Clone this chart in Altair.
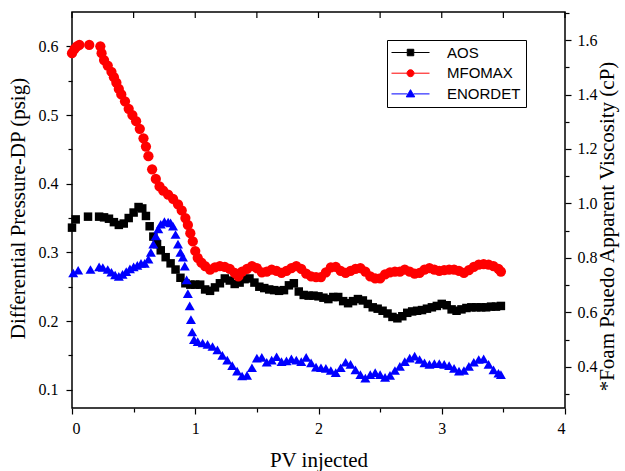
import altair as alt
import pandas as pd

series_names = ["AOS", "MFOMAX", "ENORDET"]
series_colors = ["#000000", "#ff0000", "#0000ff"]

aos_x = [0.00, 0.03, 0.13, 0.22, 0.26, 0.30, 0.34, 0.38, 0.42, 0.46, 0.50, 0.54, 0.57, 0.60, 0.63,
         0.66, 0.69, 0.72, 0.76, 0.80, 0.84, 0.88, 0.92, 0.96, 1.00, 1.04, 1.08, 1.12, 1.16, 1.20,
         1.24, 1.28, 1.32, 1.36, 1.40, 1.44, 1.48, 1.52, 1.56, 1.60, 1.64, 1.68, 1.72, 1.76, 1.80,
         1.84, 1.88, 1.92, 1.96, 2.00, 2.04, 2.08, 2.12, 2.16, 2.20, 2.24, 2.28, 2.32, 2.36, 2.40,
         2.44, 2.48, 2.52, 2.56, 2.60, 2.64, 2.68, 2.72, 2.76, 2.80, 2.84, 2.88, 2.92, 2.96, 3.00,
         3.04, 3.08, 3.12, 3.16, 3.20, 3.24, 3.28, 3.32, 3.36, 3.40, 3.44, 3.48]
aos_y = [0.336, 0.348, 0.352, 0.352, 0.351, 0.349, 0.344, 0.340, 0.342, 0.350, 0.358, 0.366, 0.364, 0.353, 0.338,
         0.323, 0.312, 0.303, 0.293, 0.284, 0.275, 0.263, 0.255, 0.253, 0.253, 0.253, 0.246, 0.244, 0.249, 0.255,
         0.262, 0.259, 0.254, 0.256, 0.261, 0.262, 0.256, 0.250, 0.248, 0.246, 0.245, 0.244, 0.245, 0.252, 0.255,
         0.243, 0.238, 0.237, 0.237, 0.236, 0.234, 0.232, 0.235, 0.235, 0.229, 0.226, 0.229, 0.232, 0.230, 0.225,
         0.220, 0.218, 0.215, 0.211, 0.206, 0.204, 0.207, 0.212, 0.214, 0.215, 0.216, 0.218, 0.220, 0.222, 0.225,
         0.223, 0.217, 0.215, 0.217, 0.219, 0.220, 0.220, 0.220, 0.220, 0.221, 0.221, 0.222]

mfo_x = [0.00, 0.02, 0.04, 0.06, 0.14, 0.23, 0.24, 0.26, 0.29, 0.32, 0.34, 0.36, 0.38, 0.40, 0.43,
         0.46, 0.49, 0.52, 0.55, 0.58, 0.60, 0.62, 0.65, 0.68, 0.71, 0.74, 0.78, 0.82, 0.86, 0.89,
         0.92, 0.94, 0.96, 0.98, 1.00, 1.02, 1.05, 1.08, 1.12, 1.16, 1.20, 1.24, 1.28, 1.32, 1.35,
         1.38, 1.42, 1.46, 1.50, 1.54, 1.58, 1.62, 1.66, 1.70, 1.74, 1.78, 1.82, 1.86, 1.90, 1.94,
         1.98, 2.02, 2.06, 2.10, 2.14, 2.18, 2.22, 2.26, 2.30, 2.34, 2.38, 2.42, 2.46, 2.50, 2.54,
         2.58, 2.62, 2.66, 2.70, 2.74, 2.78, 2.82, 2.86, 2.90, 2.94, 2.98, 3.02, 3.06, 3.10, 3.14,
         3.18, 3.22, 3.26, 3.30, 3.34, 3.38, 3.42, 3.46, 3.48]
mfo_y = [0.590, 0.596, 0.600, 0.602, 0.602, 0.600, 0.590, 0.580, 0.572, 0.563, 0.555, 0.547, 0.538, 0.530, 0.520,
         0.509, 0.500, 0.491, 0.480, 0.466, 0.454, 0.440, 0.421, 0.407, 0.396, 0.390, 0.384, 0.378, 0.370, 0.361,
         0.350, 0.340, 0.328, 0.316, 0.302, 0.292, 0.285, 0.280, 0.275, 0.278, 0.280, 0.279, 0.276, 0.270, 0.265,
         0.272, 0.276, 0.280, 0.277, 0.271, 0.272, 0.275, 0.273, 0.270, 0.273, 0.277, 0.280, 0.276, 0.269, 0.265,
         0.264, 0.264, 0.271, 0.278, 0.279, 0.273, 0.270, 0.273, 0.276, 0.277, 0.272, 0.265, 0.262, 0.262, 0.268,
         0.271, 0.272, 0.272, 0.275, 0.272, 0.269, 0.270, 0.275, 0.277, 0.275, 0.273, 0.274, 0.275, 0.275, 0.273,
         0.270, 0.274, 0.279, 0.282, 0.283, 0.282, 0.280, 0.276, 0.272]

eno_x = [0.01, 0.05, 0.15, 0.22, 0.25, 0.29, 0.32, 0.35, 0.38, 0.41, 0.44, 0.47, 0.50, 0.53, 0.56,
         0.59, 0.62, 0.64, 0.66, 0.68, 0.70, 0.72, 0.75, 0.78, 0.80, 0.82, 0.84, 0.86, 0.88, 0.90,
         0.915, 0.93, 0.94, 0.955, 0.965, 0.975, 0.99, 1.02, 1.06, 1.10, 1.14, 1.18, 1.22, 1.26, 1.30,
         1.34, 1.38, 1.42, 1.46, 1.50, 1.54, 1.58, 1.62, 1.66, 1.70, 1.74, 1.78, 1.82, 1.86, 1.90,
         1.94, 1.98, 2.02, 2.06, 2.10, 2.14, 2.18, 2.22, 2.26, 2.30, 2.34, 2.38, 2.42, 2.46, 2.50,
         2.54, 2.58, 2.62, 2.66, 2.70, 2.74, 2.78, 2.82, 2.86, 2.90, 2.94, 2.98, 3.02, 3.06, 3.10,
         3.14, 3.18, 3.22, 3.26, 3.30, 3.34, 3.38, 3.42, 3.46, 3.48]
eno_y = [0.270, 0.274, 0.275, 0.279, 0.278, 0.275, 0.271, 0.267, 0.265, 0.268, 0.272, 0.276, 0.279, 0.281, 0.284,
         0.284, 0.290, 0.300, 0.312, 0.324, 0.334, 0.341, 0.345, 0.344, 0.343, 0.338, 0.326, 0.312, 0.300, 0.293,
         0.280, 0.260, 0.240, 0.222, 0.202, 0.184, 0.173, 0.170, 0.168, 0.166, 0.163, 0.158, 0.150, 0.143, 0.135,
         0.127, 0.120, 0.121, 0.132, 0.146, 0.147, 0.140, 0.143, 0.148, 0.141, 0.142, 0.145, 0.143, 0.141, 0.147,
         0.139, 0.133, 0.132, 0.131, 0.128, 0.125, 0.132, 0.140, 0.137, 0.129, 0.122, 0.117, 0.122, 0.125, 0.122,
         0.118, 0.121, 0.128, 0.134, 0.141, 0.146, 0.149, 0.144, 0.139, 0.137, 0.138, 0.138, 0.137, 0.135, 0.131,
         0.127, 0.128, 0.134, 0.140, 0.144, 0.145, 0.137, 0.129, 0.124, 0.122]

x_ticks = [0, 0.5, 1, 1.5, 2, 2.5, 3, 3.5, 4]
left_ticks = [0.1, 0.15, 0.2, 0.25, 0.3, 0.35, 0.4, 0.45, 0.5, 0.55, 0.6]
right_ticks = [0.3, 0.4, 0.5, 0.6, 0.7, 0.8, 0.9, 1.0, 1.1, 1.2, 1.3, 1.4, 1.5, 1.6, 1.7]

rows = []
for name, xs, ys in [("AOS", aos_x, aos_y), ("MFOMAX", mfo_x, mfo_y), ("ENORDET", eno_x, eno_y)]:
    for a, b in zip(xs, ys):
        rows.append({"series": name, "pv": a, "dp": b})
df = pd.DataFrame(rows)

SERIF = "Liberation Serif"
x_scale = alt.Scale(domain=[0, 4], nice=False, zero=False)
yl_scale = alt.Scale(domain=[0.0734, 0.65], nice=False, zero=False)
yr_scale = alt.Scale(domain=[0.249, 1.703], nice=False, zero=False)

common = dict(domain=False, grid=False, tickColor="black", tickWidth=1.2,
              labelFont=SERIF, labelFontSize=16, labelColor="black",
              titleFont=SERIF, titleFontSize=21, titleFontWeight="normal", titleColor="black")

x_axis = alt.Axis(orient="bottom", values=x_ticks, title="PV injected",
                  labelExpr="datum.value % 1 === 0 ? format(datum.value, 'd') : ''",
                  tickSize={"condition": {"test": "datum.value % 1 === 0", "value": 6}, "value": 4},
                  labelPadding=6, titleX=246.5, titleY=52, titleAlign="center", titleBaseline="middle",
                  **common)
yl_axis = alt.Axis(orient="left", values=left_ticks, title="Differential Pressure-DP (psig)",
                   labelExpr="abs(datum.value*10 - round(datum.value*10)) < 0.001 ? format(datum.value, '.1f') : ''",
                   tickSize={"condition": {"test": "abs(datum.value*10 - round(datum.value*10)) < 0.001", "value": 6}, "value": 4},
                   labelPadding=8, titleAngle=270, titleX=-54, titleY=196, titleAlign="center",
                   titleBaseline="middle", **common)
yr_axis = alt.Axis(orient="right", values=right_ticks, title="*Foam Psuedo Apparent Viscosity (cP)",
                   labelExpr="round(datum.value*10) % 2 === 0 ? format(datum.value, '.1f') : ''",
                   tickSize={"condition": {"test": "round(datum.value*10) % 2 === 0", "value": 6}, "value": 4},
                   labelPadding=6, titleAngle=270, titleX=42, titleY=214, titleAlign="center",
                   titleBaseline="middle", **common)

base = alt.Chart(df)


def series_layer(name, shape, color, size):
    return base.transform_filter(alt.datum.series == name).mark_point(
        shape=shape, filled=True, color=color, size=size, opacity=1, strokeWidth=0
    ).encode(
        x=alt.X("pv:Q", scale=x_scale, axis=x_axis),
        y=alt.Y("dp:Q", scale=yl_scale, axis=yl_axis),
    )


legend_paths = [
    "M-3.8,0H-0.65M0.65,0H3.8M-0.65,-0.65H0.65V0.65H-0.65Z",
    "M-3.8,0H-0.7M0.7,0H3.8M0.7,0A0.7,0.7,0,1,1,-0.7,0A0.7,0.7,0,1,1,0.7,0Z",
    "M-3.8,0H-0.6M0.6,0H3.8M0,-0.85L0.85,0.6L-0.85,0.6Z",
]

leg = alt.Legend(title=None, orient="none", legendX=315, legendY=28, strokeColor="black",
                 fillColor="white", padding=5, labelFont="Liberation Sans", labelFontSize=15,
                 labelColor="black", symbolSize=100, symbolStrokeWidth=1, symbolOffset=11,
                 labelOffset=29, rowPadding=4.7, symbolOpacity=1,
                 labelExpr="datum.label + '   '")

legend_layer = base.mark_point(filled=True, opacity=0).encode(
    x=alt.X("pv:Q", scale=x_scale, axis=x_axis),
    y=alt.Y("dp:Q", scale=yl_scale, axis=yl_axis),
    fill=alt.Fill("series:N", scale=alt.Scale(domain=series_names, range=series_colors), legend=leg),
    stroke=alt.Stroke("series:N", scale=alt.Scale(domain=series_names, range=series_colors), legend=leg),
    shape=alt.Shape("series:N", scale=alt.Scale(domain=series_names, range=legend_paths), legend=leg),
)

top_ticks = alt.Chart(pd.DataFrame({"t": x_ticks})).mark_rule(color="black", strokeWidth=1.2).encode(
    x=alt.X("t:Q", scale=x_scale, axis=x_axis),
    y=alt.value(0),
    y2=alt.value(6),
)

inner = alt.layer(
    series_layer("AOS", "square", series_colors[0], 72),
    series_layer("MFOMAX", "circle", series_colors[1], 105),
    series_layer("ENORDET", "triangle-up", series_colors[2], 100),
    legend_layer,
    top_ticks,
)

right_layer = alt.Chart(pd.DataFrame({"v": right_ticks})).mark_point(opacity=0).encode(
    y=alt.Y("v:Q", scale=yr_scale, axis=yr_axis)
)

chart = alt.layer(inner, right_layer).resolve_scale(y="independent").properties(
    width=493, height=396,
    padding={"left": 72, "top": 12, "right": 60, "bottom": 63},
    autosize=alt.AutoSizeParams(type="none"),
    background="white",
).configure_view(stroke="black", strokeWidth=1.5)

chart.save("out.html", embed_options={"renderer": "svg", "actions": False})
